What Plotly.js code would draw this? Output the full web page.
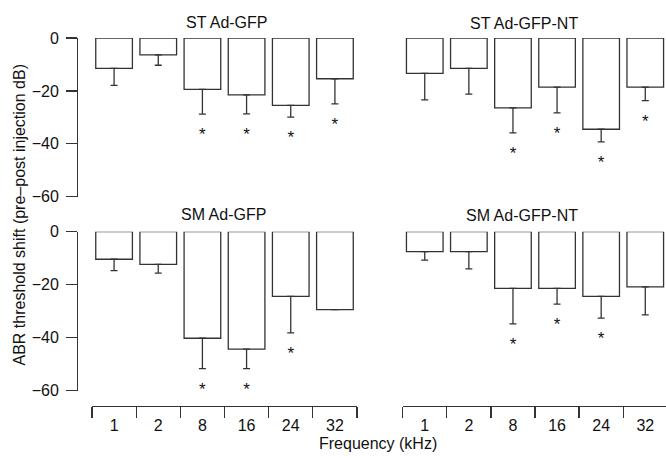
<!DOCTYPE html>
<html>
<head>
<meta charset="utf-8">
<script src="https://cdn.plot.ly/plotly-3.0.1.min.js"></script>
<style>html,body{margin:0;padding:0;background:#fff;}#chart{width:666px;height:458px;}</style>
</head>
<body>
<div id="chart"></div>
<script>
var freqs = ['1', '2', '8', '16', '24', '32'];

// ST Ad-GFP
var stGfpMean = [-11.5, -6.4, -19.4, -21.5, -25.5, -15.4];
var stGfpErr  = [6.4, 3.9, 9.4, 7.2, 4.4, 9.5];
var stGfpSig  = [0, 0, 1, 1, 1, 1];

// ST Ad-GFP-NT
var stNtMean = [-13.4, -11.5, -26.4, -18.6, -34.5, -18.6];
var stNtErr  = [10.0, 9.7, 9.5, 9.7, 4.8, 5.1];
var stNtSig  = [0, 0, 1, 1, 1, 1];

// SM Ad-GFP
var smGfpMean = [-10.4, -12.3, -40.2, -44.3, -24.4, -29.4];
var smGfpErr  = [4.3, 3.3, 11.5, 7.4, 13.8, 0];
var smGfpSig  = [0, 0, 1, 1, 1, 0];

// SM Ad-GFP-NT
var smNtMean = [-7.5, -7.5, -21.4, -21.4, -24.4, -20.8];
var smNtErr  = [3.2, 6.5, 13.4, 5.9, 8.2, 10.6];
var smNtSig  = [0, 0, 1, 1, 1, 0];

var panelTitles = ['ST Ad-GFP', 'ST Ad-GFP-NT', 'SM Ad-GFP', 'SM Ad-GFP-NT'];
var yTickVals = [0, -20, -40, -60];
var yTickText = ['0', '\u221220', '\u221240', '\u221260'];

var INK = '#333333';
var FONT = 'Liberation Sans, Arial, Helvetica, sans-serif';
var STAR_GAP = 8.2;

function barTrace(mean, err, xa, ya) {
  return {
    type: 'bar', x: freqs, y: mean, xaxis: xa, yaxis: ya,
    width: 0.83,
    marker: {color: '#ffffff', line: {color: INK, width: 1.3}},
    error_y: {type: 'data', symmetric: false,
      array: mean.map(function(){return 0;}), arrayminus: err,
      color: INK, thickness: 1.3, width: 3.5},
    hoverinfo: 'none', showlegend: false
  };
}
function starTrace(mean, err, sig, xa, ya) {
  var xs = [], ys = [];
  for (var i = 0; i < freqs.length; i++) {
    if (sig[i]) { xs.push(freqs[i]); ys.push(mean[i] - err[i] - STAR_GAP); }
  }
  return {
    type: 'scatter', mode: 'text', x: xs, y: ys, text: xs.map(function(){return '*';}),
    textposition: 'middle center', xaxis: xa, yaxis: ya,
    textfont: {family: FONT, size: 17, color: '#111'},
    hoverinfo: 'none', showlegend: false, cliponaxis: false
  };
}

var data = [
  barTrace(smGfpMean, smGfpErr, 'x', 'y'),
  barTrace(smNtMean, smNtErr, 'x2', 'y2'),
  barTrace(stGfpMean, stGfpErr, 'x', 'y3'),
  barTrace(stNtMean, stNtErr, 'x2', 'y4'),
  starTrace(smGfpMean, smGfpErr, smGfpSig, 'x', 'y5'),
  starTrace(smNtMean, smNtErr, smNtSig, 'x2', 'y6'),
  starTrace(stGfpMean, stGfpErr, stGfpSig, 'x', 'y7'),
  starTrace(stNtMean, stNtErr, stNtSig, 'x2', 'y8')
];

var L = 77, T = 38, W = 589, H = 368;
function px(x) { return (x - L) / W; }
function py(y) { return (T + H - y) / H; }

var xCommon = {
  type: 'category', categoryorder: 'array', categoryarray: freqs,
  anchor: 'free', position: 0,
  showline: true, linecolor: INK, linewidth: 1.3,
  ticks: 'outside', tickson: 'boundaries', ticklen: 11, tickwidth: 1.3, tickcolor: INK,
  ticklabelstandoff: 4,
  showgrid: false, zeroline: false, fixedrange: true,
  tickfont: {family: FONT, size: 16, color: '#111'}
};
var xMinor = {
  type: 'linear', anchor: 'free', position: 0,
  showline: false, ticks: 'inside', ticklen: 2.5, tickwidth: 1, tickcolor: INK,
  tickvals: [0, 1, 2, 3, 4, 5], showticklabels: false,
  showgrid: false, zeroline: false, fixedrange: true
};
var yCommon = {
  range: [-60, 0], anchor: 'free', position: 0,
  showline: true, linecolor: INK, linewidth: 1.3,
  ticks: 'outside', ticklen: 11, tickwidth: 1.3, tickcolor: INK,
  ticklabelstandoff: 4,
  tickvals: yTickVals, ticktext: yTickText,
  showgrid: false, zeroline: false, fixedrange: true,
  tickfont: {family: FONT, size: 16, color: '#111'}
};
var yHidden = {range: [-60, 0], visible: false, showgrid: false, zeroline: false, fixedrange: true};

var botDom = [py(390.7), py(231.7)];
var topDom = [py(196.7), 1];
// star layers: same scale, extended a little below so asterisks under -60 stay visible
var EXT = 14;
var botStarDom = [py(390.7 + EXT), py(231.7)];
var topStarDom = [py(196.7 + EXT), 1];
var botStarRange = [-60 - 60 * EXT / (390.7 - 231.7), 0];
var topStarRange = [-60 - 60 * EXT / (196.7 - 38), 0];

var layout = {
  width: 666, height: 458,
  margin: {l: L, r: 0, t: T, b: 458 - T - H, pad: 0},
  paper_bgcolor: '#fff', plot_bgcolor: 'rgba(0,0,0,0)',
  bargap: 0.17,
  font: {family: FONT, color: '#111'},
  xaxis: Object.assign({}, xCommon, {domain: [px(92), px(357)], range: [-0.5, 5.5]}),
  xaxis2: Object.assign({}, xCommon, {domain: [px(402.7), 1], range: [-0.5, 5.47]}),
  xaxis3: Object.assign({}, xMinor, {domain: [px(92), px(357)], range: [-0.5, 5.5], overlaying: 'x'}),
  xaxis4: Object.assign({}, xMinor, {domain: [px(402.7), 1], range: [-0.5, 5.47], overlaying: 'x2'}),
  yaxis: Object.assign({}, yCommon, {domain: botDom}),
  yaxis3: Object.assign({}, yCommon, {domain: topDom}),
  yaxis2: Object.assign({}, yHidden, {domain: botDom, anchor: 'x2'}),
  yaxis4: Object.assign({}, yHidden, {domain: topDom, anchor: 'x2'}),
  yaxis5: Object.assign({}, yHidden, {domain: botStarDom, range: botStarRange, anchor: 'x'}),
  yaxis6: Object.assign({}, yHidden, {domain: botStarDom, range: botStarRange, anchor: 'x2'}),
  yaxis7: Object.assign({}, yHidden, {domain: topStarDom, range: topStarRange, anchor: 'x'}),
  yaxis8: Object.assign({}, yHidden, {domain: topStarDom, range: topStarRange, anchor: 'x2'}),
  annotations: [
    {text: panelTitles[0], x: px(227), y: py(22.5), xref: 'paper', yref: 'paper', showarrow: false, xanchor: 'center', yanchor: 'middle', font: {family: FONT, size: 16, color: '#111'}},
    {text: panelTitles[1], x: px(524), y: py(23.5), xref: 'paper', yref: 'paper', showarrow: false, xanchor: 'center', yanchor: 'middle', font: {family: FONT, size: 16, color: '#111'}},
    {text: panelTitles[2], x: px(223), y: py(214.5), xref: 'paper', yref: 'paper', showarrow: false, xanchor: 'center', yanchor: 'middle', font: {family: FONT, size: 16, color: '#111'}},
    {text: panelTitles[3], x: px(522), y: py(215.5), xref: 'paper', yref: 'paper', showarrow: false, xanchor: 'center', yanchor: 'middle', font: {family: FONT, size: 16, color: '#111'}},
    {text: 'ABR threshold shift (pre\u2013post injection dB)', x: px(18.5), y: py(215), xref: 'paper', yref: 'paper', showarrow: false, textangle: -90, xanchor: 'center', yanchor: 'middle', font: {family: FONT, size: 16, color: '#111'}},
    {text: 'Frequency (kHz)', x: px(378), y: py(443), xref: 'paper', yref: 'paper', showarrow: false, xanchor: 'center', yanchor: 'middle', font: {family: FONT, size: 16, color: '#111'}}
  ]
};

Plotly.newPlot('chart', data, layout, {displayModeBar: false, staticPlot: true});
</script>
</body>
</html>
